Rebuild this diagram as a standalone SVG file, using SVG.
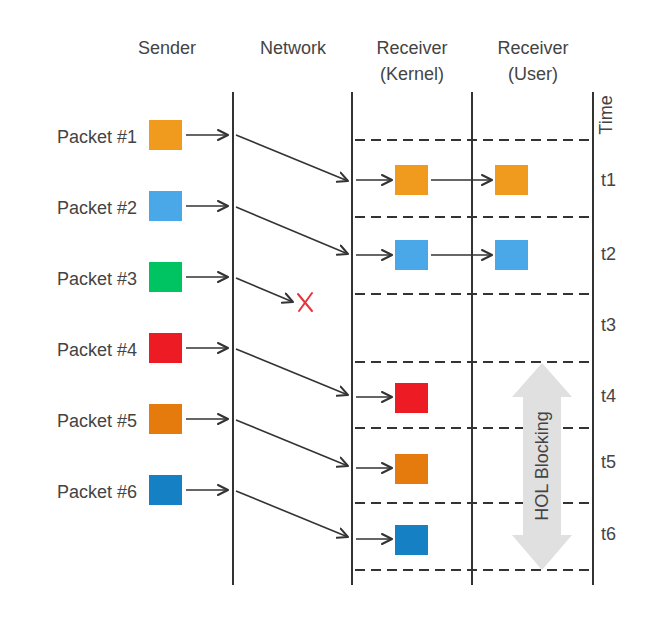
<svg xmlns="http://www.w3.org/2000/svg" width="658" height="622" viewBox="0 0 658 622">
<defs>
<marker id="ah" markerWidth="14" markerHeight="14" refX="11" refY="6" orient="auto" markerUnits="userSpaceOnUse">
<path d="M1,1 L11,6 L1,11" fill="none" stroke="#333" stroke-width="2" stroke-linecap="round" stroke-linejoin="round"/>
</marker>
<style>
text{font-family:"Liberation Sans","DejaVu Sans",sans-serif;fill:#444;font-size:18px}
.hdr{text-anchor:middle}
.lbl{text-anchor:end}
.vl{stroke:#333;stroke-width:2;fill:none}
.dl{stroke:#333;stroke-width:2;stroke-dasharray:10 6;fill:none}
.ar{stroke:#333;stroke-width:1.6;fill:none;marker-end:url(#ah)}
</style>
</defs>
<rect width="658" height="622" fill="#fff"/>
<g id="headers">
<text class="hdr" x="167" y="54">Sender</text>
<text class="hdr" x="293" y="54">Network</text>
<text class="hdr" x="412" y="54">Receiver</text>
<text class="hdr" x="412" y="80">(Kernel)</text>
<text class="hdr" x="533" y="54">Receiver</text>
<text class="hdr" x="533" y="80">(User)</text>
<text class="hdr" transform="translate(612,115) rotate(-90)">Time</text>
</g>
<g id="lanes">
<line class="vl" x1="233" y1="92" x2="233" y2="585"/>
<line class="vl" x1="352" y1="92" x2="352" y2="585"/>
<line class="vl" x1="472" y1="92" x2="472" y2="585"/>
<line class="vl" x1="593" y1="92" x2="593" y2="585"/>
<line class="dl" x1="355" y1="140" x2="590" y2="140"/>
<line class="dl" x1="355" y1="217" x2="590" y2="217"/>
<line class="dl" x1="355" y1="294" x2="590" y2="294"/>
<line class="dl" x1="355" y1="362" x2="590" y2="362"/>
<line class="dl" x1="355" y1="428" x2="590" y2="428"/>
<line class="dl" x1="355" y1="503" x2="590" y2="503"/>
<line class="dl" x1="355" y1="570" x2="590" y2="570"/>
</g>
<g id="time-labels">
<text x="601" y="186">t1</text>
<text x="601" y="260">t2</text>
<text x="601" y="331">t3</text>
<text x="601" y="402">t4</text>
<text x="601" y="468">t5</text>
<text x="601" y="540">t6</text>
</g>
<g id="hol">
<path d="M542,363 L572,397 L561,397 L561,535 L572,535 L542,570 L512,535 L523,535 L523,397 L512,397 Z" fill="#e0e0e0"/>
<text class="hdr" transform="translate(548,466) rotate(-90)">HOL Blocking</text>
</g>
<g id="packet1"><text class="lbl" x="137" y="143">Packet #1</text><rect x="149" y="120" width="33" height="30" fill="#f09a1e"/></g>
<g id="packet2"><text class="lbl" x="137" y="214">Packet #2</text><rect x="149" y="191" width="33" height="30" fill="#4aa8e8"/></g>
<g id="packet3"><text class="lbl" x="137" y="285">Packet #3</text><rect x="149" y="262" width="33" height="30" fill="#00c462"/></g>
<g id="packet4"><text class="lbl" x="137" y="356">Packet #4</text><rect x="149" y="333" width="33" height="30" fill="#ed1c24"/></g>
<g id="packet5"><text class="lbl" x="137" y="427">Packet #5</text><rect x="149" y="404" width="33" height="30" fill="#e57b0c"/></g>
<g id="packet6"><text class="lbl" x="137" y="498">Packet #6</text><rect x="149" y="475" width="33" height="30" fill="#1581c4"/></g>
<g id="kernel-packets">
<rect x="395" y="165" width="33" height="30" fill="#f09a1e"/>
<rect x="395" y="240" width="33" height="30" fill="#4aa8e8"/>
<rect x="395" y="383" width="33" height="30" fill="#ed1c24"/>
<rect x="395" y="454" width="33" height="30" fill="#e57b0c"/>
<rect x="395" y="525" width="33" height="30" fill="#1581c4"/>
</g>
<g id="user-packets">
<rect x="495" y="165" width="33" height="30" fill="#f09a1e"/>
<rect x="495" y="240" width="33" height="30" fill="#4aa8e8"/>
</g>
<g id="lost">
<path d="M298,294 L312,311 M312,293 L299,311" stroke="#e8333a" stroke-width="2" fill="none" stroke-linecap="round"/>
</g>
<g id="connectors">
<line class="ar" x1="186" y1="135" x2="228" y2="135"/>
<line class="ar" x1="186" y1="206" x2="228" y2="206"/>
<line class="ar" x1="186" y1="277" x2="228" y2="277"/>
<line class="ar" x1="186" y1="348" x2="228" y2="348"/>
<line class="ar" x1="186" y1="419" x2="228" y2="419"/>
<line class="ar" x1="186" y1="490" x2="228" y2="490"/>
<line class="ar" x1="236" y1="135" x2="348" y2="181"/>
<line class="ar" x1="236" y1="207" x2="348" y2="254"/>
<line class="ar" x1="236" y1="278" x2="293" y2="302"/>
<line class="ar" x1="236" y1="349" x2="348" y2="395"/>
<line class="ar" x1="236" y1="420" x2="348" y2="466"/>
<line class="ar" x1="236" y1="491" x2="348" y2="537"/>
<line class="ar" x1="356" y1="180" x2="392" y2="180"/>
<line class="ar" x1="356" y1="255" x2="392" y2="255"/>
<line class="ar" x1="356" y1="397" x2="392" y2="397"/>
<line class="ar" x1="356" y1="468" x2="392" y2="468"/>
<line class="ar" x1="356" y1="539" x2="392" y2="539"/>
<line class="ar" x1="431" y1="180" x2="492" y2="180"/>
<line class="ar" x1="431" y1="255" x2="492" y2="255"/>
</g>
</svg>
